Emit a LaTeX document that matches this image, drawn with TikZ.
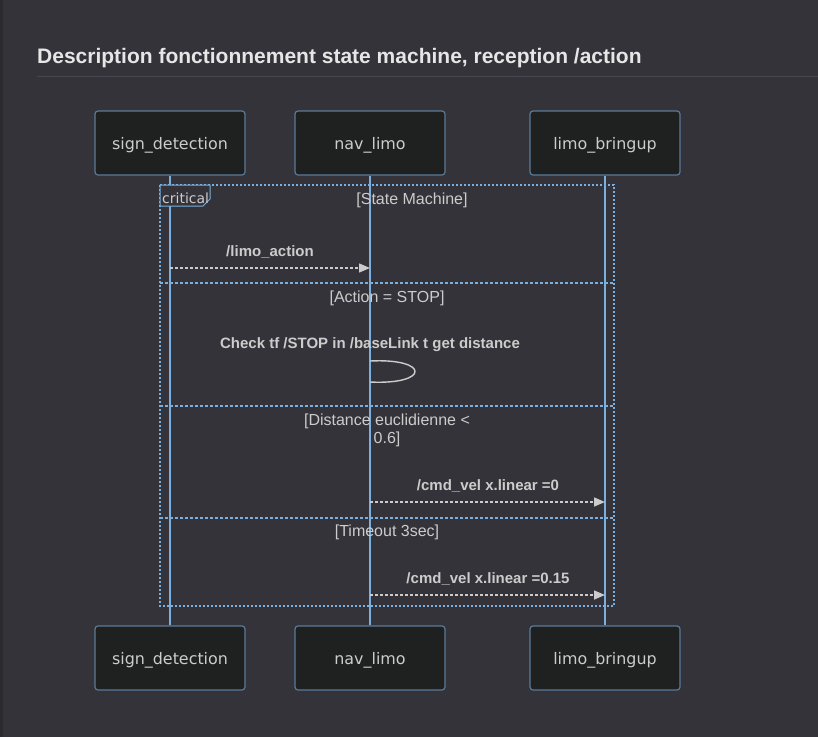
\documentclass[tikz,border=0pt]{standalone}
\usepackage{fontspec}
\setmainfont{Liberation Sans}
\newfontfamily\dejavu{DejaVu Sans}
\usetikzlibrary{arrows.meta}
\definecolor{bg}{HTML}{333339}
\definecolor{strip}{HTML}{2A2A2F}
\definecolor{boxfill}{HTML}{1F2020}
\definecolor{boxline}{HTML}{5B7A99}
\definecolor{life}{HTML}{7AB0E0}
\definecolor{txt}{HTML}{CCCCCC}
\definecolor{titletxt}{HTML}{E6E6E6}
\definecolor{rule}{HTML}{47474F}
\tikzset{
  actor/.style={draw=boxline, line width=1.2pt, fill=boxfill, rounded corners=3pt,
    minimum width=150pt, minimum height=64pt, inner sep=0pt,
    text height=15pt, text depth=2pt,
    text=txt, font=\dejavu\fontsize{15.9}{18}\selectfont},
  lifeline/.style={draw=life, line width=1.5pt},
  framel/.style={draw=life, line width=1.4pt, dash pattern=on 1.6pt off 2.4pt},
  sepl/.style={draw=life, line width=1.4pt, dash pattern=on 2.6pt off 2.4pt},
  msg/.style={draw=txt, line width=1.4pt, dash pattern=on 2.5pt off 2.5pt,
    -{Triangle[length=11pt,width=9pt,fill=txt]}},
  msgtxt/.style={text=txt, font=\bfseries\fontsize{15}{18}\selectfont, inner sep=0pt},
  condtxt/.style={text=txt, font=\fontsize{16}{18}\selectfont, inner sep=0pt, align=center},
}
\begin{document}
\begin{tikzpicture}[x=1pt,y=-1pt]
\useasboundingbox (0,0) rectangle (818,737);
\fill[bg] (0,0) rectangle (818,737);
\fill[strip] (0,0) rectangle (3,737);
\node[anchor=west, text=titletxt, font=\bfseries\fontsize{21}{24}\selectfont, inner sep=0pt] (title) at (37,58) {Description fonctionnement state machine, reception /action};
\draw[rule, line width=1pt] (37,76.5) -- (818,76.5);

% actors
\node[actor] (sdt) at (170,143) {sign\_detection};
\node[actor] (nlt) at (370,143) {nav\_limo};
\node[actor] (lbt) at (605,143) {limo\_bringup};
\node[actor] (sdb) at (170,658) {sign\_detection};
\node[actor] (nlb) at (370,658) {nav\_limo};
\node[actor] (lbb) at (605,658) {limo\_bringup};

\draw[lifeline] (sdt.south) -- (sdb.north);
\draw[lifeline] (nlt.south) -- (nlb.north);
\draw[lifeline] (lbt.south) -- (lbb.north);

% critical frame
\draw[framel] (160,185) rectangle (614,606);
\draw[draw=life, line width=1pt, fill=bg] (160,185) -- (210,185) -- (210,199) -- (203,206) -- (160,206) -- cycle;
\node[anchor=west, text=txt, font=\dejavu\fontsize{14}{16}\selectfont, inner sep=0pt] (crit) at (162,198.5) {critical};
\node[condtxt] (c1) at (412,200) {[State Machine]};

% separators
\coordinate (s1l) at (160,283); \coordinate (s1r) at (614,283);
\coordinate (s2l) at (160,406); \coordinate (s2r) at (614,406);
\coordinate (s3l) at (160,518); \coordinate (s3r) at (614,518);
\draw[sepl] (s1l) -- (s1r);
\draw[sepl] (s2l) -- (s2r);
\draw[sepl] (s3l) -- (s3r);

\node[condtxt] (c2) at (387,298) {[Action = STOP]};
\node[condtxt] (c3) at (387,430) {[Distance euclidienne <\\0.6]};
\node[condtxt] (c4) at (387,532) {[Timeout 3sec]};

% messages
\coordinate (m1a) at (170,268); \coordinate (m1b) at (370,268);
\node[msgtxt] (t1) at (270,252) {/limo\_action};
\draw[msg] (m1a) -- (m1b);

\node[msgtxt] (t2) at (370,345) {Check tf /STOP in /baseLink t get distance};
\coordinate (l1) at (370,361); \coordinate (l2) at (370,382);
\draw[txt, line width=1.4pt] (l1) .. controls (430,358) and (430,385) .. (l2);

\coordinate (m3a) at (370,502); \coordinate (m3b) at (605,502);
\node[msgtxt] (t3) at (488,486) {/cmd\_vel x.linear =0};
\draw[msg] (m3a) -- (m3b);

\coordinate (m4a) at (370,595); \coordinate (m4b) at (605,595);
\node[msgtxt] (t4) at (488,579) {/cmd\_vel x.linear =0.15};
\draw[msg] (m4a) -- (m4b);
\end{tikzpicture}
\end{document}
